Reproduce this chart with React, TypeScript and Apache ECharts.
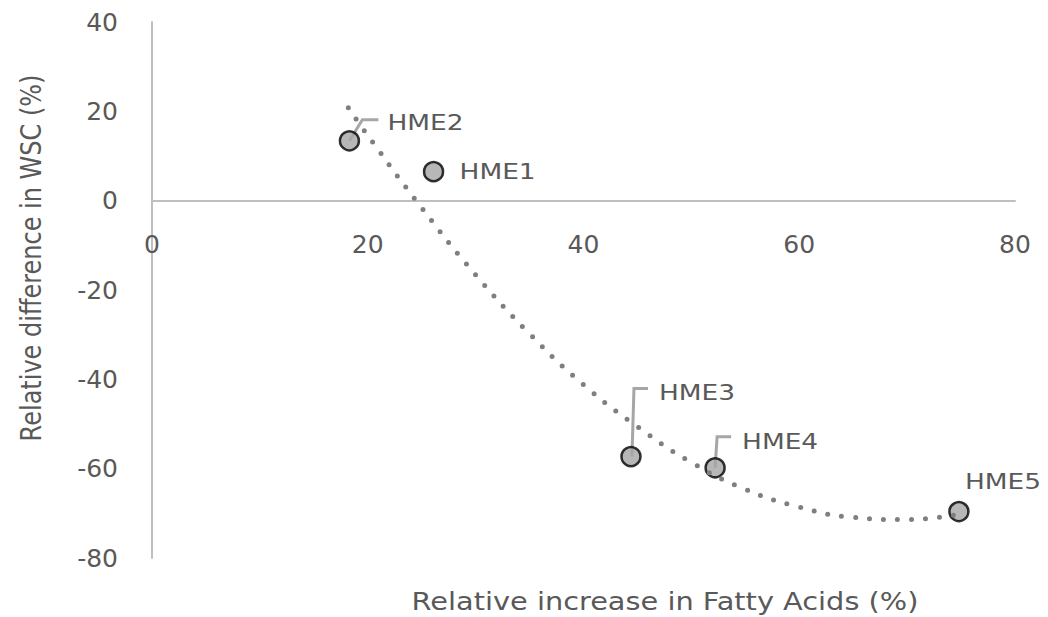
import React, { useEffect, useRef } from "react";
import * as echarts from "echarts";

// Samples: relative increase in fatty acids vs relative difference in WSC
const pointNames = ["HME1", "HME2", "HME3", "HME4", "HME5"];
const fattyAcidIncrease = [26.1, 18.3, 44.4, 52.2, 74.8];
const wscDifference = [6.5, 13.4, -57.3, -59.8, -69.6];

// Polynomial trend line, read along its course
const trendX = [18.2, 20, 25, 30, 35, 40, 45, 50, 55, 60, 65, 70, 75];
const trendY = [20.8, 14.6, -1.6, -16.6, -29.8, -41.2, -50.6, -58.6, -64.6, -68.6, -70.9, -71.4, -70.1];

// Axis ticks
const xTicks = [0, 20, 40, 60, 80];
const yTicks = [-80, -60, -40, -20, 0, 20, 40];

const xTitle = "Relative increase in Fatty Acids (%)";
const yTitle = "Relative difference in WSC (%)";

const FONT = '"DejaVu Sans", "Open Sans", sans-serif';
const TEXT = "#595959";
const AXIS = "#bfbfbf";
const WIDE = 1.2; // horizontal text stretch

// Label placement (px from marker centre) and leader-line bends
const labelOffset: number[][] = [
  [26, 0],
  [38, -19],
  [28, -64],
  [27, -26],
  [6, -30],
];
const leaderBends: (number[][] | null)[] = [
  null,
  [[0, 0], [13, -21], [29, -21]],
  [[1, 0], [3, -68], [17, -68]],
  [[0, 0], [2, -31], [16, -31]],
  null,
];

export default function App() {
  const ref = useRef<HTMLDivElement>(null);

  useEffect(() => {
    document.body.style.margin = "0";
    if (!ref.current) return;
    const chart = echarts.init(ref.current, null, { renderer: "svg" });

    const points = fattyAcidIncrease.map((x, i) => [x, wscDifference[i], i]);
    const trend = trendX.map((x, i) => [x, trendY[i]]);

    const gridTop = 22;
    const gridBottom = 59;
    const plotHeight = 617 - gridTop - gridBottom;
    // move the horizontal axis up to the y = 0 line
    const yMin = yTicks[0];
    const yMax = yTicks[yTicks.length - 1];
    const zeroShift = -plotHeight * (0 - yMin) / (yMax - yMin);

    chart.setOption({
      animation: false,
      backgroundColor: "#ffffff",
      grid: { left: 152, right: 33, top: gridTop, bottom: gridBottom, containLabel: false },
      xAxis: {
        type: "value",
        position: "bottom",
        offset: zeroShift,
        min: xTicks[0],
        max: xTicks[xTicks.length - 1],
        interval: xTicks[1] - xTicks[0],
        axisLine: { show: true, onZero: false, lineStyle: { color: AXIS, width: 2 } },
        axisTick: { show: false },
        splitLine: { show: false },
        axisLabel: {
          margin: 31,
          fontSize: 25,
          fontFamily: FONT,
          color: TEXT,
          showMinLabel: true,
          showMaxLabel: true,
        },
      },
      yAxis: {
        type: "value",
        min: yMin,
        max: yMax,
        interval: yTicks[1] - yTicks[0],
        axisLine: { show: true, onZero: false, lineStyle: { color: AXIS, width: 2 } },
        axisTick: { show: false },
        splitLine: { show: false },
        axisLabel: {
          margin: 34,
          fontSize: 25,
          fontFamily: FONT,
          color: TEXT,
          showMinLabel: true,
          showMaxLabel: true,
        },
      },
      graphic: [
        {
          type: "text",
          x: 665,
          y: 601,
          scaleX: WIDE,
          style: {
            text: xTitle,
            fill: TEXT,
            fontSize: 24,
            fontFamily: FONT,
            align: "center",
            verticalAlign: "middle",
          },
        },
        {
          type: "text",
          x: 31,
          y: 258,
          rotation: Math.PI / 2,
          scaleY: WIDE,
          style: {
            text: yTitle,
            fill: TEXT,
            fontSize: 24,
            fontFamily: FONT,
            align: "center",
            verticalAlign: "middle",
          },
        },
      ],
      series: [
        {
          // leader lines and point labels
          type: "custom",
          z: 1,
          data: points,
          renderItem: (params: any, api: any) => {
            const i = params.dataIndex;
            const p = api.coord([api.value(0), api.value(1)]);
            const children: any[] = [];
            const bends = leaderBends[i];
            if (bends) {
              children.push({
                type: "polyline",
                shape: { points: bends.map(([a, b]) => [p[0] + a, p[1] + b]) },
                style: { stroke: "#a6a6a6", lineWidth: 3, fill: null },
              });
            }
            children.push({
              type: "text",
              x: p[0] + labelOffset[i][0],
              y: p[1] + labelOffset[i][1],
              scaleX: WIDE,
              style: {
                text: pointNames[i],
                fill: TEXT,
                fontSize: 22,
                fontFamily: FONT,
                align: "left",
                verticalAlign: "middle",
              },
            });
            return { type: "group", children };
          },
        },
        {
          type: "scatter",
          z: 2,
          data: points,
          symbol: "circle",
          symbolSize: 19,
          itemStyle: { color: "#a5a5a5", borderColor: "#000000", borderWidth: 2.5 },
        },
        {
          type: "line",
          z: 3,
          data: trend,
          smooth: true,
          showSymbol: false,
          symbol: "none",
          lineStyle: { color: "#7f7f7f", width: 5, type: [0, 14], cap: "round" },
        },
      ],
    });

    return () => chart.dispose();
  }, []);

  return <div ref={ref} style={{ width: 1048, height: 617 }} />;
}
